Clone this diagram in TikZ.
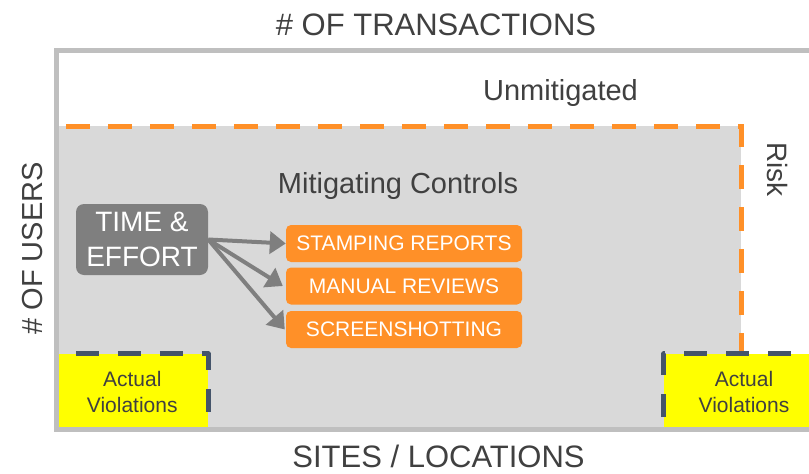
\documentclass[tikz,border=0pt]{standalone}
\usepackage{fontspec}
\setmainfont{Liberation Sans}
\usetikzlibrary{arrows.meta}
\definecolor{framegray}{HTML}{BFBFBF}
\definecolor{mitfill}{HTML}{D9D9D9}
\definecolor{riskorange}{HTML}{FF9028}
\definecolor{violblue}{HTML}{44546A}
\definecolor{violyellow}{HTML}{FFFF00}
\definecolor{txtgray}{HTML}{404040}
\definecolor{effortgray}{HTML}{7F7F7F}
\tikzset{
  axislabel/.style={text=txtgray, font=\fontsize{31}{37}\selectfont, inner sep=0pt, anchor=base},
  zonelabel/.style={text=txtgray, font=\fontsize{29}{35}\selectfont, inner sep=0pt, anchor=base},
  riskdash/.style={draw=riskorange, line width=5pt, dash pattern=on 24pt off 18pt},
  violdash/.style={draw=violblue, line width=5pt, dash pattern=on 23pt off 19pt, line join=round},
  violbox/.style={fill=violyellow, inner sep=0pt, text=txtgray, align=center,
    font=\fontsize{21}{26}\selectfont},
  effortbox/.style={fill=effortgray, rounded corners=8pt, text=white, align=center,
    inner sep=0pt, minimum width=132pt, minimum height=71pt,
    font=\fontsize{28}{35.6}\selectfont},
  controlbox/.style={fill=riskorange, rounded corners=5pt, text=white, inner sep=0pt,
    minimum width=236pt, minimum height=37pt, font=\fontsize{21}{25}\selectfont},
  effortarrow/.style={draw=effortgray, line width=4pt, -{Triangle[length=16pt,width=22pt]}},
}
\begin{document}
\begin{tikzpicture}[x=1pt, y=-1pt]
\useasboundingbox (0,0) rectangle (809,474);
\fill[white] (0,0) rectangle (809,474);

% mitigated area and its dashed risk boundary
\fill[mitfill] (56.5,126) rectangle (741,429.5);
\draw[riskdash, dash phase=32.5pt] (56.5,126) -- (741,126) -- (741,429.5) -- (56.5,429.5) -- cycle;

% actual violations corners
\node[violbox, minimum width=151.5pt, minimum height=75.5pt] (lv) at (132.25,391.75) {Actual\\Violations};
\node[violbox, minimum width=160pt, minimum height=75.5pt] (rv) at (744,391.75) {Actual\\Violations};
\draw[violdash, dash phase=22.5pt] (lv.north west) -- (lv.north east) -- (lv.south east) -- (lv.south west) -- cycle;
\draw[violdash, dash phase=29.5pt] (rv.south west) -- (rv.north west) -- (rv.north east);

% outer frame
\draw[framegray, line width=5pt] (56.5,50) rectangle (840,429.5);

% axis and zone labels
\node[axislabel] (tx) at (436,35) {\# OF TRANSACTIONS};
\node[axislabel] (sl) at (438.5,467.5) {SITES / LOCATIONS};
\node[axislabel, rotate=90, font=\fontsize{29}{35}\selectfont] (us) at (42,248.5) {\# OF USERS};
\node[zonelabel] (un) at (560.5,100) {Unmitigated};
\node[zonelabel] (mc) at (398,193) {Mitigating Controls};
\node[zonelabel, rotate=-90, font=\fontsize{28}{34}\selectfont] (rk) at (767,169.5) {Risk};

% effort and the controls it feeds
\node[effortbox] (te) at (142,239.5) {TIME \&\\EFFORT};
\node[controlbox] (sr) at (404,243.5) {STAMPING REPORTS};
\node[controlbox] (mr) at (404,286) {MANUAL REVIEWS};
\node[controlbox] (ss) at (404,329.5) {SCREENSHOTTING};

\draw[effortarrow] (te.east) -- (sr.west);
\draw[effortarrow] (te.east) -- ([xshift=-3pt]mr.west);
\draw[effortarrow] (te.east) -- ([xshift=-1pt]ss.west);
\end{tikzpicture}
\end{document}
